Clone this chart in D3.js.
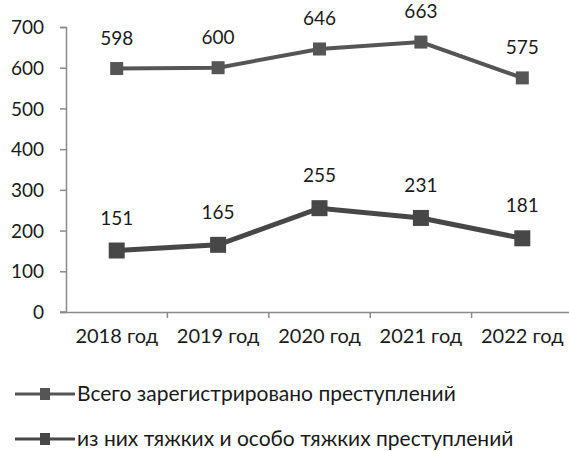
<!DOCTYPE html>
<html><head><meta charset="utf-8">
<script src="https://cdn.jsdelivr.net/npm/d3@7"></script>
<style>body{margin:0;background:#fff}svg{display:block}text{font-family:Lato,"Open Sans",sans-serif;fill:#1a1a1a}</style>
</head><body><svg id="c" width="569" height="451"></svg>
<script>
const categories = ["2018 год","2019 год","2020 год","2021 год","2022 год"];
const totalCrimes = [598,600,646,663,575];
const seriousCrimes = [151,165,255,231,181];
const yTicks = [0,100,200,300,400,500,600,700];
const seriesNames = ["Всего зарегистрировано преступлений","из них тяжких и особо тяжких преступлений"];

const svg = d3.select("#c");
const x = d3.scaleBand().domain(categories).range([66,573]);
const y = d3.scaleLinear().domain([0,700]).range([312,27]);
const axisColor = "#8a8a8a";

// y axis
const ya = svg.append("g").attr("transform","translate(66,0)")
  .call(d3.axisLeft(y).tickValues(yTicks).tickSize(6).tickPadding(16).tickFormat(d3.format("d")));
ya.select(".domain").attr("stroke",axisColor).attr("stroke-width",1.5);
ya.selectAll(".tick line").attr("stroke",axisColor).attr("stroke-width",1.5);
ya.selectAll("text").attr("font-size",19).attr("fill","#1a1a1a").attr("dy","0.35em");

// x axis
const xa = svg.append("g").attr("transform","translate(0,312)")
  .call(d3.axisBottom(x).tickSize(0).tickPadding(17).tickSizeOuter(0));
xa.select(".domain").attr("stroke",axisColor).attr("stroke-width",1.5);
xa.selectAll("text").attr("font-size",20).attr("fill","#1a1a1a").attr("dy","0.71em");
// tick marks at band boundaries
svg.append("g").selectAll("line").data(categories.slice(1)).join("line")
  .attr("x1",d=>x(d)).attr("x2",d=>x(d)).attr("y1",312).attr("y2",318)
  .attr("stroke",axisColor).attr("stroke-width",1.5);
svg.append("line").attr("x1",60).attr("x2",66).attr("y1",312).attr("y2",312).attr("stroke",axisColor).attr("stroke-width",1.5);

const cx = d => x(d) + x.bandwidth()/2;
const series = [
  {name:seriesNames[0], values:totalCrimes, color:"#555555", lw:4, ms:13, off:24},
  {name:seriesNames[1], values:seriousCrimes, color:"#474747", lw:5, ms:16, off:26}
];
const line = d3.line().x(d=>cx(d.c)).y(d=>y(d.v));
series.forEach(s=>{
  const pts = categories.map((c,i)=>({c, v:s.values[i]}));
  const g = svg.append("g");
  g.append("path").datum(pts).attr("d",line).attr("fill","none").attr("stroke",s.color).attr("stroke-width",s.lw);
  g.selectAll("rect").data(pts).join("rect")
    .attr("x",d=>cx(d.c)-s.ms/2).attr("y",d=>y(d.v)-s.ms/2)
    .attr("width",s.ms).attr("height",s.ms).attr("fill",s.color);
  g.selectAll("text").data(pts).join("text")
    .attr("x",d=>cx(d.c)).attr("y",d=>y(d.v)-s.off)
    .attr("text-anchor","middle").attr("font-size",19).text(d=>d.v);
});

// legend
const leg = svg.append("g");
series.forEach((s,i)=>{
  const yy = 394 + i*45;
  leg.append("line").attr("x1",15).attr("x2",75).attr("y1",yy).attr("y2",yy).attr("stroke",s.color).attr("stroke-width",3);
  leg.append("rect").attr("x",45-5).attr("y",yy-6).attr("width",10).attr("height",12).attr("fill",s.color);
  leg.append("text").attr("x",77).attr("y",yy).attr("dy","0.35em").attr("font-size",21).text(s.name);
});
</script></body></html>
